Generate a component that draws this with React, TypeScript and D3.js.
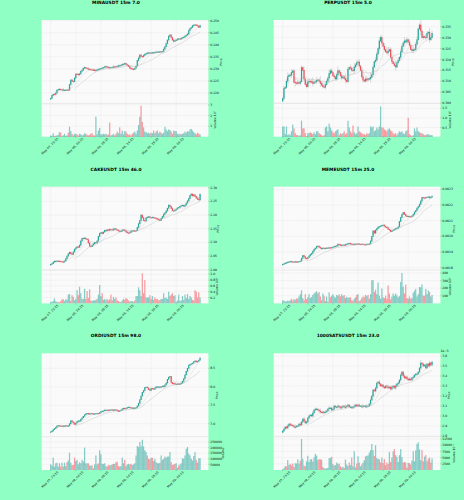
import React from "react";
import * as d3 from "d3";

const tickLabels = ["May 07, 23:15", "May 08, 04:15", "May 08, 09:15", "May 08, 14:15", "May 08, 19:15", "May 09, 00:15"];

const minaClose = [
  .2178,.2190,.2195,.2194,.2200,.2212,.2215,.2216,.2213,.2214,
  .2212,.2212,.2211,.2213,.2212,.2235,.2254,.2249,.2247,.2262,
  .2279,.2278,.2275,.2280,.2290,.2295,.2303,.2306,.2303,.2301,
  .2299,.2298,.2297,.2295,.2296,.2292,.2295,.2296,.2299,.2300,
  .2302,.2304,.2306,.2309,.2310,.2307,.2306,.2305,.2306,.2307,
  .2309,.2308,.2311,.2310,.2314,.2313,.2316,.2319,.2320,.2323,
  .2318,.2315,.2310,.2303,.2301,.2299,.2298,.2302,.2312,.2335,
  .2345,.2358,.2352,.2350,.2356,.2361,.2364,.2366,.2367,.2367,
  .2366,.2368,.2367,.2369,.2370,.2369,.2371,.2370,.2372,.2373,
  .2382,.2392,.2405,.2420,.2436,.2441,.2430,.2420,.2414,.2417,
  .2420,.2424,.2425,.2424,.2427,.2430,.2432,.2436,.2440,.2445,
  .2459,.2468,.2472,.2480,.2482,.2483,.2480,.2478,.2472,.2480,
];
const minaVol = [
  .15,.1,.35,.1,.12,.15,.2,.45,.4,.12,
  .15,.3,.1,.15,.4,.95,.55,.3,.15,.3,
  .3,.25,.15,.3,.25,.15,.2,.35,.3,.2,
  .15,.2,.3,.35,.15,.15,1.9,.25,.6,.85,
  .25,.25,.3,.25,.3,.2,.25,1.35,.15,.2,
  .3,.15,.3,.5,.35,.9,.3,.6,.25,.55,
  .5,.3,.2,.25,.15,.3,.4,.5,.3,.6,
  1.1,1.9,2.9,1.4,.9,.5,.45,.35,.4,.3,
  .4,.35,.6,.35,.5,.6,.35,.5,.4,.3,
  .4,.95,.7,.55,.7,.65,.5,.3,.6,.55,
  .55,.3,.25,.3,.25,.3,.35,.5,.4,.55,
  .5,.7,.75,.6,.45,.35,.25,.4,.3,.25,
];
const perpClose = [
  .3021,.3067,.3072,.3100,.3121,.3128,.3128,.3140,.3148,.3095,
  .3092,.3090,.3094,.3090,.3098,.3163,.3150,.3110,.3085,.3075,
  .3097,.3100,.3096,.3098,.3090,.3095,.3098,.3104,.3106,.3100,
  .3090,.3082,.3075,.3072,.3085,.3100,.3115,.3135,.3148,.3140,
  .3125,.3120,.3110,.3130,.3148,.3140,.3125,.3115,.3120,.3112,
  .3105,.3098,.3155,.3163,.3160,.3150,.3148,.3165,.3175,.3185,
  .3188,.3170,.3150,.3120,.3105,.3100,.3110,.3105,.3112,.3110,
  .3118,.3130,.3165,.3190,.3197,.3225,.3250,.3285,.3301,.3275,
  .3260,.3245,.3235,.3230,.3238,.3245,.3210,.3190,.3180,.3172,
  .3165,.3185,.3195,.3210,.3235,.3260,.3275,.3285,.3280,.3290,
  .3280,.3265,.3245,.3240,.3245,.3245,.3270,.3290,.3340,.3358,
  .3330,.3300,.3305,.3301,.3300,.3320,.3325,.3290,.3300,.3320,
];
const perpVol = [
  .55,.55,.15,.55,.1,.15,.1,.3,.65,.45,
  .2,.1,.1,.05,.1,.85,.45,.45,.2,.05,
  .2,.2,.25,.2,.15,.25,.15,.3,.3,.2,
  .15,.1,.05,.1,.5,.55,.3,.7,.5,.35,
  .25,.2,.3,.35,.4,.1,.2,.15,.2,.3,
  .15,.2,.85,.5,.3,.2,.6,.25,.15,.2,
  .55,.3,.25,.2,.15,.15,.1,.2,.15,.2,
  .55,.5,.55,.3,.35,.5,.4,.55,1.6,.5,
  .5,.4,.35,.3,.4,.45,.35,.3,.2,.15,
  .2,.1,.2,.3,.25,.3,.2,.15,.3,.35,
  1.0,.15,.1,.05,.1,.45,.3,.5,.3,.25,
  .2,.2,.15,.1,.1,.15,.15,.1,.1,.1,
];
const cakeClose = [
  2.020,2.022,2.028,2.031,2.031,2.032,2.031,2.031,2.030,2.029,
  2.028,2.032,2.040,2.050,2.058,2.064,2.058,2.056,2.065,2.075,
  2.080,2.084,2.082,2.090,2.105,2.115,2.114,2.116,2.112,2.110,
  2.098,2.086,2.084,2.090,2.095,2.100,2.098,2.105,2.122,2.133,
  2.136,2.132,2.138,2.144,2.142,2.146,2.144,2.148,2.147,2.145,
  2.149,2.150,2.146,2.144,2.142,2.140,2.141,2.145,2.146,2.142,
  2.138,2.135,2.134,2.136,2.141,2.143,2.142,2.141,2.143,2.155,
  2.168,2.180,2.200,2.190,2.180,2.178,2.190,2.192,2.194,2.191,
  2.190,2.192,2.190,2.188,2.187,2.185,2.182,2.180,2.188,2.195,
  2.203,2.208,2.215,2.225,2.236,2.232,2.224,2.216,2.215,2.218,
  2.222,2.226,2.228,2.232,2.234,2.236,2.232,2.236,2.244,2.252,
  2.260,2.272,2.277,2.270,2.274,2.268,2.262,2.258,2.255,2.276,
];
const cakeVol = [
  .05,.05,.08,.17,.07,.05,.05,.03,.08,.14,
  .14,.08,.14,.12,.3,.32,.08,.28,.22,.1,
  .15,.45,.28,.57,.35,.15,.15,.5,.15,.42,
  .18,.48,.1,.08,.1,.1,.12,.15,.3,.63,
  .25,.35,.12,.15,.1,.15,.1,.14,.3,.1,
  .22,.15,.2,.1,.08,.05,.05,.1,.15,.12,
  .18,.15,.1,.06,.08,.08,.05,.1,.25,.25,
  .55,.45,.25,1.03,.35,.8,.2,.2,.2,.28,
  .15,.25,.12,.2,.15,.15,.1,.12,.15,.15,
  .35,.18,.2,.15,.4,.25,.3,.35,.25,.28,
  .05,.1,.3,.08,.1,.25,.12,.3,.18,.32,
  .15,.25,.2,.12,.1,.45,.4,.2,.38,.2,
];
const memeClose = [
  .001822,.001825,.001830,.001832,.001835,.001838,.001840,.001838,.001836,.001838,
  .001838,.001836,.001838,.001840,.001842,.001860,.001878,.001870,.001860,.001858,
  .001865,.001875,.001885,.001892,.001905,.001918,.001925,.001935,.001938,.001930,
  .001925,.001920,.001925,.001922,.001924,.001926,.001925,.001928,.001926,.001930,
  .001932,.001935,.001938,.001940,.001950,.001948,.001942,.001944,.001945,.001943,
  .001948,.001950,.001955,.001956,.001952,.001950,.001948,.001950,.001951,.001949,
  .001952,.001950,.001948,.001950,.001949,.001947,.001946,.001950,.001948,.001952,
  .001970,.002000,.002035,.002020,.002040,.002050,.002060,.002062,.002066,.002070,
  .002072,.002065,.002058,.002055,.002045,.002040,.002030,.002035,.002040,.002045,
  .002050,.002052,.002060,.002095,.002120,.002140,.002152,.002140,.002130,.002125,
  .002128,.002126,.002124,.002130,.002140,.002155,.002165,.002180,.002190,.002205,
  .002225,.002248,.002246,.002244,.002248,.002250,.002252,.002245,.002250,.002256,
];
const memeVol = [
  40,35,25,25,35,30,40,60,35,55,
  45,65,60,90,120,170,70,40,120,55,
  80,120,70,85,110,130,145,160,130,150,
  90,40,130,100,30,90,20,145,80,100,
  120,90,75,110,100,120,90,120,95,110,
  70,85,75,75,80,40,35,60,80,110,
  120,30,40,70,90,80,110,95,110,60,
  120,305,305,150,180,120,275,100,60,195,
  80,70,100,60,235,130,50,90,130,100,
  130,105,80,95,280,400,220,130,248,70,
  60,90,60,70,140,165,190,90,120,215,
  210,250,100,100,190,120,170,150,90,110,
];
const ordiClose = [
  6.78,6.80,6.84,6.87,6.90,6.94,6.95,6.94,6.93,6.94,
  6.93,6.94,6.95,6.93,6.94,7.00,7.08,7.05,7.02,6.98,
  7.02,7.06,7.08,7.07,7.12,7.16,7.20,7.24,7.27,7.28,
  7.26,7.27,7.28,7.27,7.26,7.27,7.28,7.28,7.27,7.30,
  7.33,7.34,7.35,7.37,7.36,7.37,7.36,7.37,7.38,7.37,
  7.37,7.38,7.37,7.36,7.33,7.35,7.37,7.40,7.42,7.41,
  7.42,7.44,7.45,7.44,7.42,7.43,7.41,7.42,7.44,7.48,
  7.55,7.65,7.75,7.85,7.90,7.98,7.99,7.97,7.92,7.90,
  7.96,7.95,7.93,7.97,8.00,7.99,8.00,7.98,8.00,8.02,
  8.00,8.05,8.10,8.20,8.26,8.28,8.12,8.08,8.09,8.07,
  8.07,8.08,8.06,8.08,8.10,8.15,8.22,8.32,8.42,8.50,
  8.58,8.61,8.62,8.64,8.68,8.70,8.67,8.69,8.72,8.78,
];
const ordiVol = [
  50,40,110,30,60,65,30,60,30,65,
  30,65,35,70,85,155,65,45,45,110,
  80,90,50,70,60,90,75,200,60,60,
  60,40,40,40,15,50,130,50,60,175,
  140,55,55,60,35,30,45,40,45,50,
  55,55,70,75,35,30,35,110,60,90,
  35,50,55,50,55,45,50,60,130,215,
  205,250,210,270,210,175,160,130,100,95,
  110,110,80,100,70,60,60,65,130,90,
  100,120,110,120,120,160,70,45,50,55,
  60,20,40,50,60,105,100,130,190,205,
  145,130,100,85,125,160,90,65,105,105,
];
const satsClose = [
  2.85,2.87,2.89,2.88,2.90,2.92,2.91,2.91,2.90,2.89,
  2.89,2.90,2.90,2.92,2.91,2.94,2.97,2.95,2.93,2.94,
  2.98,3.00,3.01,3.00,3.03,3.06,3.07,3.07,3.06,3.05,
  3.04,3.04,3.03,3.04,3.04,3.05,3.07,3.08,3.08,3.06,
  3.07,3.10,3.09,3.09,3.10,3.09,3.08,3.09,3.10,3.09,
  3.09,3.10,3.11,3.09,3.09,3.08,3.09,3.10,3.11,3.10,
  3.11,3.10,3.10,3.09,3.10,3.10,3.09,3.10,3.10,3.12,
  3.16,3.20,3.26,3.25,3.28,3.33,3.34,3.32,3.30,3.31,
  3.29,3.28,3.30,3.29,3.28,3.29,3.27,3.29,3.30,3.28,
  3.30,3.32,3.33,3.36,3.41,3.44,3.40,3.38,3.39,3.37,
  3.36,3.37,3.36,3.38,3.39,3.41,3.42,3.42,3.44,3.48,
  3.53,3.52,3.50,3.51,3.48,3.52,3.50,3.53,3.51,3.54,
];
const satsVol = [
  300,800,1600,1400,4000,2000,2500,1800,2600,1200,
  2700,2600,4300,2500,3800,12500,4500,1800,1500,3500,
  5700,3200,4200,4400,3400,5100,6500,5800,4000,4400,
  4300,4200,1200,800,500,700,800,4800,4900,5300,
  2400,1800,2000,3000,2400,2600,1500,1000,1300,800,
  4200,2200,1600,3000,2000,5000,1500,7600,1000,2600,
  5500,3000,1500,2200,3000,4000,5500,5700,5900,7000,
  8000,10500,8000,5600,10000,4800,4500,4300,3000,5000,
  2800,4400,2000,3000,2400,7300,3200,5000,7500,8400,
  6000,5200,3200,6000,8400,5200,3000,3200,3000,1000,
  2800,2800,2200,3800,7600,3500,8000,10500,11200,8300,
  4000,8000,3500,5400,6000,3500,4500,5000,3000,4700,
];

// typed share of each candle's reach above and below its body
const wickPattern = [.6,1.1,.4,.9,1.6,.5,.8,1.3,.3,.7,1.9,.6,1.0,.4,1.2,.8,.5,1.5,.7,1.0];

const charts = [
  { title: "MINAUSDT 15m 7.0", close: minaClose, vol: minaVol, wick: .0004,
    priceTicks: [0.25,0.245,0.24,0.235,0.23,0.225,0.22], priceLabels: ["0.250","0.245","0.240","0.235","0.230","0.225","0.220"],
    volTicks: [3,2,1], volLabels: ["3","2","1"], volName: "Volume  10⁷", col: 0, top: 20, pY: [20.7,93], vY: [104.7,137], priceX: 222, volX: 216, offset: "" },
  { title: "PERPUSDT 15m 5.0", close: perpClose, vol: perpVol, wick: .0012,
    priceTicks: [.335,.33,.325,.32,.315,.31,.305,.3], priceLabels: ["0.335","0.330","0.325","0.320","0.315","0.310","0.305","0.300"],
    volTicks: [1.5,1,.5], volLabels: ["1.5","1.0","0.5"], volName: "Volume  10⁶", col: 1, top: 20, pY: [26.7,103], vY: [108.3,137], priceX: 222, volX: 219, offset: "" },
  { title: "CAKEUSDT 15m 46.0", close: cakeClose, vol: cakeVol, wick: .003,
    priceTicks: [2.3,2.25,2.2,2.15,2.1,2.05,2], priceLabels: ["2.30","2.25","2.20","2.15","2.10","2.05","2.00"],
    volTicks: [1,.8,.6,.4,.2], volLabels: ["1.0","0.8","0.6","0.4","0.2"], volName: "Volume  10⁶", col: 0, top: 186.7, pY: [187.7,269.7], vY: [274.3,303.3], priceX: 219, volX: 218, offset: "" },
  { title: "MEMEUSDT 15m 25.0", close: memeClose, vol: memeVol, wick: .000004,
    priceTicks: [.0023,.0022,.0021,.002,.0019,.0018], priceLabels: ["0.0023","0.0022","0.0021","0.0020","0.0019","0.0018"],
    volTicks: [400,300,200,100], volLabels: ["400","300","200","100"], volName: "Volume  10⁶", col: 1, top: 186.7, pY: [189.3,267.7], vY: [273,303.3], priceX: 223, volX: 219, offset: "" },
  { title: "ORDIUSDT 15m 98.0", close: ordiClose, vol: ordiVol.map(v => v * 1000), wick: .012,
    priceTicks: [8.5,8,7.5,7], priceLabels: ["8.5","8.0","7.5","7.0"],
    volTicks: [250000,200000,150000,100000,50000], volLabels: ["250000","200000","150000","100000","50000"], volName: "Volume", col: 0, top: 353.3, pY: [368.3,423.7], vY: [442,470], priceX: 218, volX: 224, offset: "" },
  { title: "1000SATSUSDT 15m 23.0", close: satsClose, vol: satsVol, wick: .014,
    priceTicks: [3.6,3.5,3.4,3.3,3.2,3.1,3,2.9,2.8], priceLabels: ["3.6","3.5","3.4","3.3","3.2","3.1","3.0","2.9","2.8"],
    volTicks: [12500,10000,7500,5000,2500], volLabels: ["12500","10000","7500","5000","2500"], volName: "Volume  10⁻⁷", col: 1, top: 353.3, pY: [356,436], vY: [439,470], priceX: 218, volX: 223, offset: "1e−5" },
];

const UP = "#26a69a";
const DOWN = "#f0505a";
const W = 166.7, H = 116.7, SPLIT = 83.4, LEFT = 41.7, COL = 232;
const MA_WINDOWS = [5, 10, 20];
const FONT = "'DejaVu Sans', sans-serif";

function Chart({ c }: { c: any }) {
  const ox = c.col * COL;
  const x = d3.scaleLinear().domain([0, 20]).range([50.7, 75.8]);
  const bottom = c.top + H;
  const split = c.top + SPLIT;
  const right = LEFT + W;
  const y = d3.scaleLinear().domain([c.priceTicks[0], c.priceTicks[c.priceTicks.length - 1]]).range(c.pY);
  const v = d3.scaleLinear().domain([c.volTicks[0], 0]).range(c.vY);
  const xTicks = d3.range(0, 120, 20);
  const line = d3.line<number | null>().defined(d => d !== null).x((_, i) => x(i)).y(d => y(d as number));
  const mas = MA_WINDOWS.map(w => c.close.map((_: number, i: number) => i < w - 1 ? null : d3.mean(c.close.slice(i - w + 1, i + 1))));
  return (
    <g transform={`translate(${ox},0)`} fontFamily={FONT}>
      <text x={116} y={c.top - 16.2} fontSize={4.4} fontWeight={700} textAnchor="middle" fill="#000">{c.title}</text>
      <rect x={LEFT} y={c.top} width={W} height={H} fill="#fafafa" />
      {xTicks.map((t: number) => <line key={t} x1={x(t)} x2={x(t)} y1={c.top} y2={bottom} stroke="#dcdcdc" strokeWidth={.35} strokeDasharray="1 .5" />)}
      {c.priceTicks.map((t: number) => <line key={t} x1={LEFT} x2={right} y1={y(t)} y2={y(t)} stroke="#dcdcdc" strokeWidth={.35} strokeDasharray="1 .5" />)}
      {c.volTicks.map((t: number) => <line key={t} x1={LEFT} x2={right} y1={v(t)} y2={v(t)} stroke="#dcdcdc" strokeWidth={.35} strokeDasharray="1 .5" />)}
      <line x1={LEFT} x2={right} y1={split} y2={split} stroke="#d8d8d8" strokeWidth={.5} />
      {c.close.map((cl: number, i: number) => {
        const op = i === 0 ? cl - c.wick : c.close[i - 1];
        const up = cl >= op;
        const col = up ? UP : DOWN;
        const reach = c.wick * wickPattern[i % wickPattern.length];
        const hi = Math.max(op, cl) + reach;
        const lo = Math.min(op, cl) - reach * .7;
        return (
          <g key={i}>
            <line x1={x(i)} x2={x(i)} y1={y(hi)} y2={y(lo)} stroke="#9a9a9a" strokeWidth={.35} />
            <rect x={x(i) - .62} width={1.25} y={y(Math.max(op, cl)) - .3} height={Math.max(.6, Math.abs(y(op) - y(cl))) + .6} fill={col} />
            <rect x={x(i) - .62} width={1.25} y={v(c.vol[i])} height={Math.max(0, c.vY[1] - v(c.vol[i]))} fill={col} fillOpacity={.55} />
          </g>
        );
      })}
      {mas.map((m: (number | null)[], k: number) => (
        <path key={k} d={line(m) || ""} fill="none" stroke="#b5b5b5" strokeOpacity={k === 2 ? .95 : .6} strokeWidth={.4} />
      ))}
      {c.priceTicks.map((t: number, i: number) => (
        <g key={t}>
          <line x1={right} x2={right + 1} y1={y(t)} y2={y(t)} stroke="#333" strokeWidth={.25} />
          <text x={right + 1.8} y={y(t) + 1.1} fontSize={3.1} fill="#111">{c.priceLabels[i]}</text>
        </g>
      ))}
      {c.volTicks.map((t: number, i: number) => (
        <g key={t}>
          <line x1={right} x2={right + 1} y1={v(t)} y2={v(t)} stroke="#333" strokeWidth={.25} />
          <text x={right + 1.8} y={v(t) + 1.1} fontSize={3.1} fill="#111">{c.volLabels[i]}</text>
        </g>
      ))}
      {c.offset && <text x={right} y={c.top - 1.2} fontSize={3.1} fill="#111">{c.offset}</text>}
      <text transform={`translate(${c.priceX},${c.top + 42}) rotate(-90)`} fontSize={3.1} textAnchor="middle" fill="#111">Price</text>
      <text transform={`translate(${c.volX},${c.top + 100}) rotate(-90)`} fontSize={3.1} textAnchor="middle" fill="#111">{c.volName}</text>
      {xTicks.map((t: number, i: number) => (
        <g key={t}>
          <line x1={x(t)} x2={x(t)} y1={bottom} y2={bottom + 1} stroke="#333" strokeWidth={.25} />
          <text transform={`translate(${x(t)},${bottom + 10.2}) rotate(-45)`} fontSize={3.1} textAnchor="middle" fill="#111">{tickLabels[i]}</text>
        </g>
      ))}
    </g>
  );
}

export default function App() {
  return (
    <svg width={464} height={500} viewBox="0 0 464 500" style={{ position: "fixed", left: 0, top: 0, display: "block" }}>
      <rect width={464} height={500} fill="#8fffc4" />
      {charts.map(c => <Chart key={c.title} c={c} />)}
    </svg>
  );
}
